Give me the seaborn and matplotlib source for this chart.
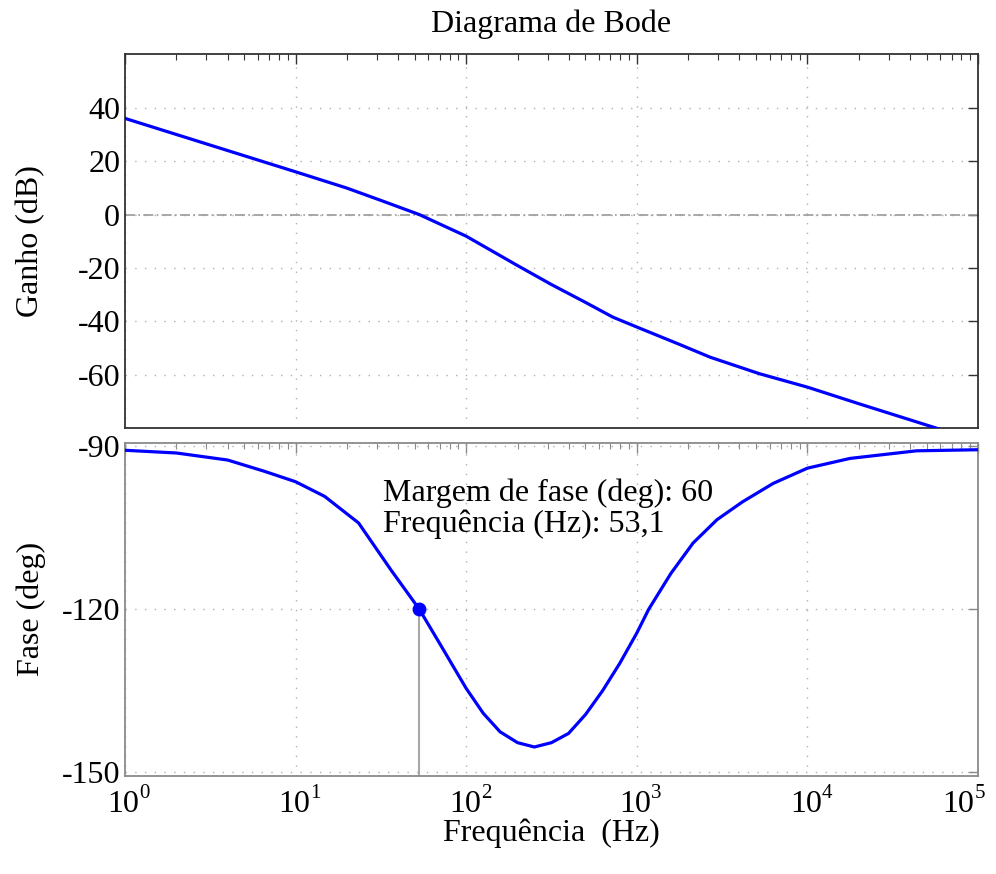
import numpy as np
import pandas as pd
import matplotlib
matplotlib.use("Agg")
import matplotlib.pyplot as plt
import seaborn as sns
from matplotlib.ticker import LogLocator, NullFormatter, FixedLocator

# ---------------- data ----------------
gain_freq = [1, 3.16, 10, 20, 31.6, 53.1, 100, 200, 316, 501, 724, 1000,
             1778, 2692, 5248, 10000, 20000, 31623, 60000, 100000]
gain_db = [36.0, 26.0, 16.0, 9.9, 5.3, 0.0, -8.1, -19.1, -26.2, -32.9, -38.4, -42.1,
           -48.6, -53.4, -59.6, -64.6, -70.8, -74.8, -80.4, -84.8]

phase_freq = [1, 2, 4, 6.6, 10, 14.8, 23.4, 36.3, 53.1, 70.8, 100, 126, 158, 200,
              251, 316, 398, 501, 631, 794, 1000, 1175, 1585, 2138, 2951, 4169,
              6310, 10000, 17783, 43652, 100000]
phase_deg = [-90.7, -91.2, -92.5, -94.6, -96.5, -99.2, -104.1, -112.8, -120.0, -126.6,
             -134.6, -139.2, -142.6, -144.6, -145.4, -144.6, -142.9, -139.4, -135.0,
             -130.0, -124.4, -120.0, -113.4, -107.8, -103.5, -100.2, -96.8, -94.0,
             -92.2, -90.8, -90.6]

pm_freq = 53.1
pm_phase = -120.0
pm_text = ["Margem de fase (deg): 60", "Frequência (Hz): 53,1"]

gain_ticks = [-60, -40, -20, 0, 20, 40]
phase_ticks = [-150, -120, -90]
x_ticks = [1, 10, 100, 1000, 10000, 100000]
x_exponents = ["0", "1", "2", "3", "4", "5"]

gain_df = pd.DataFrame({"f": gain_freq, "g": gain_db})
phase_df = pd.DataFrame({"f": phase_freq, "p": phase_deg})

# ---------------- style ----------------
sns.set_style("white")
plt.rcParams["font.family"] = ["Liberation Serif", "DejaVu Serif"]
plt.rcParams["mathtext.fontset"] = "stix"
plt.rcParams["axes.unicode_minus"] = False
for k in ("text.color", "axes.labelcolor", "xtick.labelcolor", "ytick.labelcolor"):
    plt.rcParams[k] = "black"
FS = 23

fig = plt.figure(figsize=(9.96, 8.74), dpi=100)
ax1 = fig.add_axes([0.1255, 0.5100, 0.8564, 0.4279])
ax2 = fig.add_axes([0.1255, 0.1121, 0.8564, 0.3814])

grid_kw = dict(color="#b0b0b0", linewidth=1.0, linestyle=(0, (1, 6)))

for ax, spc in ((ax1, "#333333"), (ax2, "#8a8a8a")):
    ax.set_xscale("log")
    ax.set_xlim(1, 1e5)
    ax.xaxis.set_major_locator(FixedLocator(x_ticks))
    ax.xaxis.set_minor_locator(LogLocator(base=10, subs=np.arange(2, 10), numticks=20))
    ax.xaxis.set_minor_formatter(NullFormatter())
    for s in ax.spines.values():
        s.set_color(spc)
        s.set_linewidth(1.3)
    ax.tick_params(which="both", direction="in", top=True, right=True,
                   color=spc, labelsize=FS, labelcolor="black")
    ax.tick_params(which="major", length=7, width=1.0)
    ax.tick_params(which="minor", length=4, width=0.8)
    ax.tick_params(axis="y", which="minor", left=False, right=False)
    ax.grid(True, which="major", **grid_kw)
    ax.set_axisbelow(True)

# ---------------- gain ----------------
ax1.axhline(0, color="#9a9a9a", linewidth=1.2, linestyle=(0, (6, 2, 1, 2)), zorder=1)
sns.lineplot(data=gain_df, x="f", y="g", ax=ax1, color="blue", linewidth=2.3, zorder=3)
ax1.set_ylim(-80, 60)
ax1.set_yticks(gain_ticks)
ax1.set_yticklabels([str(v) for v in gain_ticks])
ax1.set_xticklabels([])
ax1.set_xlabel("")
ax1.set_ylabel("Ganho (dB)", fontsize=FS)
ax1.yaxis.set_label_coords(-0.093, 0.5)
ax1.set_title("Diagrama de Bode", fontsize=FS, pad=16, color="black")

# ---------------- phase ----------------
sns.lineplot(data=phase_df, x="f", y="p", ax=ax2, color="blue", linewidth=2.3, zorder=3)
ax2.set_ylim(-150.75, -89.3)
ax2.set_yticks(phase_ticks)
ax2.set_yticklabels([str(v) for v in phase_ticks])
ax2.set_xticklabels([])
# MATLAB-style decade labels: "10" with a small raised exponent
for i, (t, e) in enumerate(zip(x_ticks, x_exponents)):
    shift = -13 if i == len(x_ticks) - 1 else 0
    ax2.annotate("10", xy=(t, 0), xycoords=("data", "axes fraction"),
                 xytext=(shift - 1, -20.5), textcoords="offset points",
                 ha="center", va="center", fontsize=FS, annotation_clip=False)
    ax2.annotate(e, xy=(t, 0), xycoords=("data", "axes fraction"),
                 xytext=(shift + 10.5, -12.5), textcoords="offset points",
                 ha="left", va="center", fontsize=15, annotation_clip=False)
ax2.vlines(pm_freq, -150.75, pm_phase, color="#a8a8a8", linewidth=1.5, zorder=2)
ax2.plot([pm_freq], [pm_phase], "o", color="blue", markersize=9, zorder=4)
ax2.text(32.5, -98.6, pm_text[0], fontsize=FS, va="center", ha="left")
ax2.text(32.5, -104.3, pm_text[1], fontsize=FS, va="center", ha="left")
ax2.set_xlabel("Frequência  (Hz)", fontsize=FS)
ax2.xaxis.set_label_coords(0.5, -0.128)
ax2.set_ylabel("Fase (deg)", fontsize=FS)
ax2.yaxis.set_label_coords(-0.093, 0.5)

fig.savefig("out.png", dpi=100)
